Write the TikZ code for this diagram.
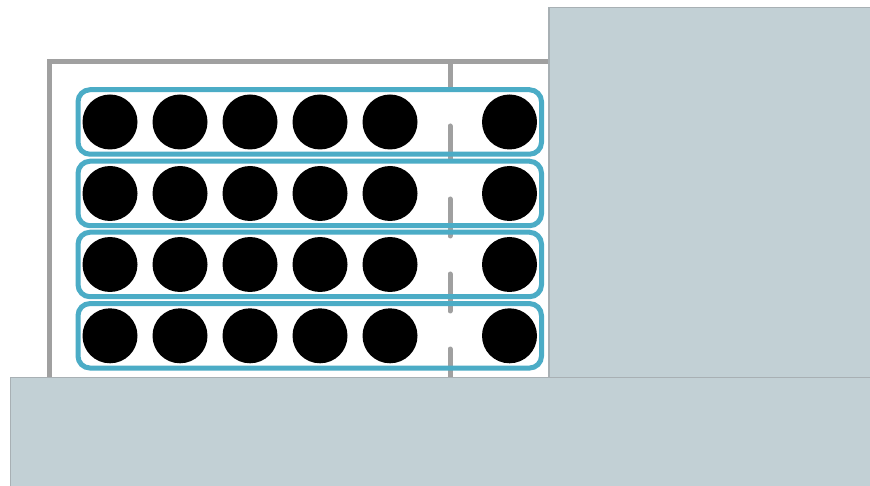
\documentclass[tikz,border=0pt]{standalone}
\begin{document}
\begin{tikzpicture}[x=1pt,y=-1pt]
\definecolor{framegray}{RGB}{160,160,160}
\definecolor{teal}{RGB}{75,172,198}
\definecolor{slab}{RGB}{194,208,213}
\definecolor{slabedge}{RGB}{168,176,180}
\tikzset{
  frameline/.style={draw=framegray, line width=5pt},
  midline/.style={draw=framegray, line width=5pt, line cap=round},
  rowbox/.style={draw=teal, line width=5pt, rounded corners=12pt, minimum width=463.5pt, minimum height=64.5pt, inner sep=0pt},
  bead/.style={circle, fill=black, minimum size=55pt, inner sep=0pt},
  slabbox/.style={fill=slab, draw=slabedge, line width=1.5pt}
}
\useasboundingbox (0,0) rectangle (870,486);
\fill[white] (0,0) rectangle (870,486);
% frame
\coordinate (ftl) at (49.5,62);
\coordinate (ftr) at (549,62);
\coordinate (fbl) at (49.5,378);
\draw[frameline] (fbl) -- (ftl) -- (ftr);
% middle dashed line
\coordinate (m0a) at (450,62);   \coordinate (m0b) at (450,92);
\coordinate (m1a) at (450,126);  \coordinate (m1b) at (450,160);
\coordinate (m2a) at (450,199);  \coordinate (m2b) at (450,236);
\coordinate (m3a) at (450,274);  \coordinate (m3b) at (450,311);
\coordinate (m4a) at (450,349);  \coordinate (m4b) at (450,380);
\draw[frameline] (m0a) -- (m0b);
\draw[midline] (m1a) -- (m1b);
\draw[midline] (m2a) -- (m2b);
\draw[midline] (m3a) -- (m3b);
\draw[midline] (m4a) -- (m4b);
% rows
\foreach \r/\y in {1/122,2/193.5,3/264.5,4/335.8}{
  \node[rowbox] (row\r) at (309.75,\y) {};
  \foreach \c/\x in {1/110,2/180,3/250,4/320,5/390,6/509.5}{
    \node[bead] (b\r\c) at (\x,\y) {};
  }
}
% slabs
\draw[slabbox] (549,7.5) rectangle (872,488);
\draw[slabbox] (10.5,377.5) rectangle (872,488);
\end{tikzpicture}
\end{document}
